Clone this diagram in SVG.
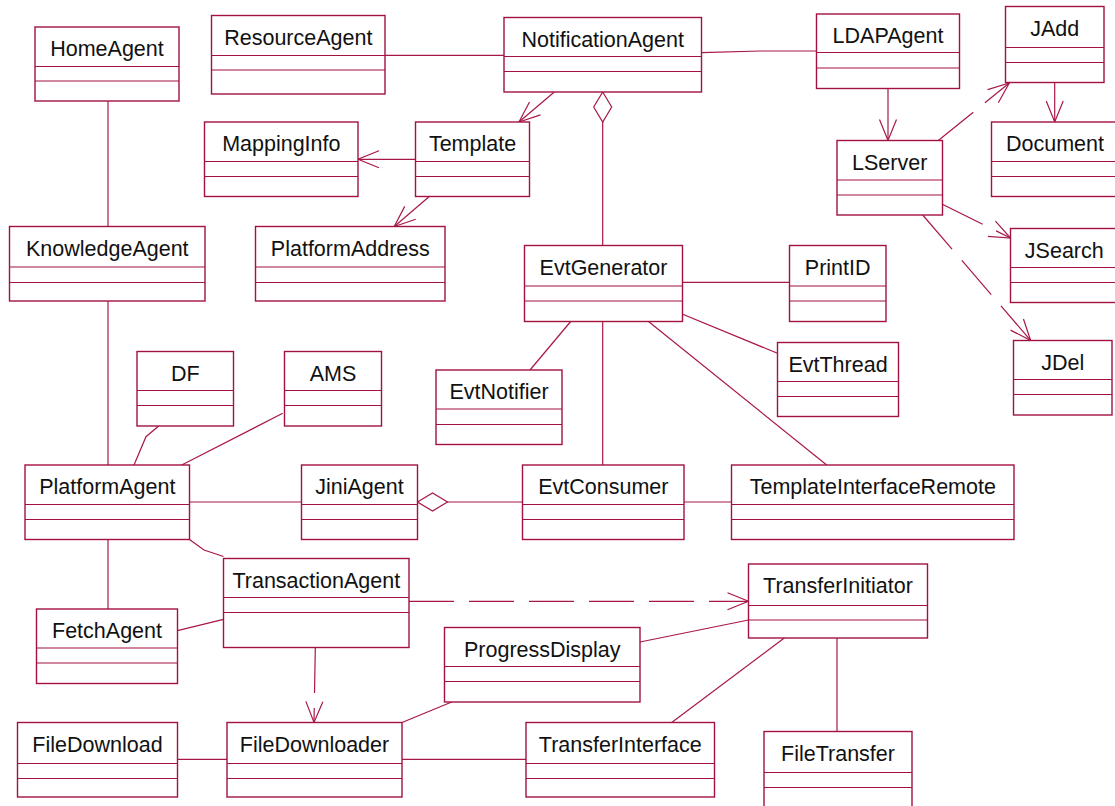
<svg xmlns="http://www.w3.org/2000/svg" width="1115" height="806" viewBox="0 0 1115 806">
  <style>
    .cls rect { fill: #ffffff; stroke: #a3123f; stroke-width: 1.4; }
    .cls line { stroke: #a3123f; stroke-width: 1.2; }
    .cls text { font-family: "Liberation Sans", Arial, sans-serif; font-size: 21.5px; text-anchor: middle; fill: #111111; }
    #connectors path { fill: none; stroke: #a8174a; stroke-width: 1.2; }
    #connectors .dash { stroke-dasharray: 45 15; }
    #connectors .nav { marker-end: url(#open); }
    #connectors .agg { marker-start: url(#diamond); }
  </style>
  <defs>
    <marker id="open" markerUnits="userSpaceOnUse" viewBox="-23 -11 25 22" markerWidth="25" markerHeight="22" refX="0" refY="0" orient="auto">
      <path d="M-21,-8.5 L0,0 L-21,8.5" fill="none" stroke="#a8174a" stroke-width="1.2"/>
    </marker>
    <marker id="diamond" markerUnits="userSpaceOnUse" viewBox="-1 -11 33 22" markerWidth="33" markerHeight="22" refX="0" refY="0" orient="auto">
      <path d="M0,0 L15,-9 L30,0 L15,9 Z" fill="#ffffff" stroke="#a8174a" stroke-width="1.2"/>
    </marker>
  </defs>
  <rect width="1115" height="806" fill="#ffffff"/>

  <!-- associations, navigations, dependencies and aggregations -->
  <g id="connectors">
    <path d="M108,101 L108,226.5"/>
    <path d="M108,301 L108,465"/>
    <path d="M385,55.3 L504,55.3"/>
    <path d="M701.5,52.7 L760,51 L816.5,51"/>
    <path class="nav" d="M554.3,92 L519,122"/>
    <path class="agg" d="M602.7,92 L602.7,245.5"/>
    <path class="nav" d="M415.5,159.3 L358,159.3"/>
    <path class="nav" d="M429,196.7 L394.3,226.5"/>
    <path class="nav" d="M888,88.5 L888,140.5"/>
    <path class="nav dash" d="M938.3,140.5 L1009.3,83"/>
    <path class="nav" d="M1054.7,82.5 L1054.7,122"/>
    <path class="nav dash" d="M942.3,204.3 L1010.5,238"/>
    <path class="nav dash" d="M922.7,215 L1030.7,340.5"/>
    <path d="M682.7,282.3 L789.5,282.3"/>
    <path d="M682.7,314.3 L777.5,353.3"/>
    <path d="M570.7,321.5 L530,370"/>
    <path d="M602.7,321.5 L602.7,465"/>
    <path d="M648.5,321.5 L826.7,465"/>
    <path d="M158.7,426 L146,436.7 L134,465"/>
    <path d="M282.7,413.3 L181.7,465"/>
    <path d="M189.5,502 L301.5,502"/>
    <path class="agg" d="M417.5,502 L522.5,502"/>
    <path d="M684,502 L731.5,502"/>
    <path d="M189.5,539.5 L204,550 L223.5,556.5"/>
    <path d="M108,539.5 L108,609"/>
    <path d="M177.5,630.7 L223.5,619.3"/>
    <path class="nav dash" d="M315.3,648 L314,722.5"/>
    <path class="nav dash" d="M409,601.3 L748.5,601.3"/>
    <path d="M177.5,759.3 L227,759.3"/>
    <path d="M402,722.5 L451.7,702"/>
    <path d="M402,759.3 L526,759.3"/>
    <path d="M640,642 L748.5,620"/>
    <path d="M784.3,638 L671.7,722.5"/>
    <path d="M837,638 L837,731.5"/>
  </g>

  <!-- classes: name, attribute and operation compartments -->
  <g id="HomeAgent" class="cls">
    <rect x="35" y="27" width="144" height="74"/>
    <line x1="35" y1="66.5" x2="179" y2="66.5"/><line x1="35" y1="81" x2="179" y2="81"/>
    <text x="107" y="56">HomeAgent</text>
  </g>
  <g id="ResourceAgent" class="cls">
    <rect x="211.5" y="15.5" width="173.5" height="78.5"/>
    <line x1="211.5" y1="55.5" x2="385" y2="55.5"/><line x1="211.5" y1="70" x2="385" y2="70"/>
    <text x="298.3" y="45">ResourceAgent</text>
  </g>
  <g id="NotificationAgent" class="cls">
    <rect x="504" y="17.5" width="197.5" height="74.5"/>
    <line x1="504" y1="56.5" x2="701.5" y2="56.5"/><line x1="504" y1="71.5" x2="701.5" y2="71.5"/>
    <text x="602.7" y="46.5">NotificationAgent</text>
  </g>
  <g id="LDAPAgent" class="cls">
    <rect x="816.5" y="14" width="143" height="74.5"/>
    <line x1="816.5" y1="52.5" x2="959.5" y2="52.5"/><line x1="816.5" y1="68" x2="959.5" y2="68"/>
    <text x="888" y="43">LDAPAgent</text>
  </g>
  <g id="JAdd" class="cls">
    <rect x="1005.5" y="6.5" width="98.5" height="76"/>
    <line x1="1005.5" y1="47.5" x2="1104" y2="47.5"/><line x1="1005.5" y1="62.5" x2="1104" y2="62.5"/>
    <text x="1054.8" y="35.5">JAdd</text>
  </g>
  <g id="MappingInfo" class="cls">
    <rect x="204.5" y="122" width="153.5" height="74.5"/>
    <line x1="204.5" y1="161.5" x2="358" y2="161.5"/><line x1="204.5" y1="176.5" x2="358" y2="176.5"/>
    <text x="281.3" y="151">MappingInfo</text>
  </g>
  <g id="Template" class="cls">
    <rect x="415.5" y="122" width="114" height="74.5"/>
    <line x1="415.5" y1="161.5" x2="529.5" y2="161.5"/><line x1="415.5" y1="176.5" x2="529.5" y2="176.5"/>
    <text x="472.5" y="151">Template</text>
  </g>
  <g id="Document" class="cls">
    <rect x="991.5" y="122" width="130" height="74.5"/>
    <line x1="991.5" y1="161.5" x2="1121.5" y2="161.5"/><line x1="991.5" y1="176.5" x2="1121.5" y2="176.5"/>
    <text x="1055" y="151">Document</text>
  </g>
  <g id="LServer" class="cls">
    <rect x="837" y="140.5" width="105.5" height="74.5"/>
    <line x1="837" y1="180" x2="942.5" y2="180"/><line x1="837" y1="195" x2="942.5" y2="195"/>
    <text x="889.7" y="169.5">LServer</text>
  </g>
  <g id="KnowledgeAgent" class="cls">
    <rect x="9.5" y="226.5" width="195.5" height="74.5"/>
    <line x1="9.5" y1="267" x2="205" y2="267"/><line x1="9.5" y1="282.5" x2="205" y2="282.5"/>
    <text x="107.3" y="255.5">KnowledgeAgent</text>
  </g>
  <g id="PlatformAddress" class="cls">
    <rect x="255.5" y="226.5" width="189.5" height="74.5"/>
    <line x1="255.5" y1="267" x2="445" y2="267"/><line x1="255.5" y1="282.5" x2="445" y2="282.5"/>
    <text x="350.3" y="255.5">PlatformAddress</text>
  </g>
  <g id="EvtGenerator" class="cls">
    <rect x="524.5" y="245.5" width="158" height="76"/>
    <line x1="524.5" y1="286" x2="682.5" y2="286"/><line x1="524.5" y1="301" x2="682.5" y2="301"/>
    <text x="603.5" y="274.5">EvtGenerator</text>
  </g>
  <g id="PrintID" class="cls">
    <rect x="789.5" y="245.5" width="96.5" height="76"/>
    <line x1="789.5" y1="286" x2="886" y2="286"/><line x1="789.5" y1="301" x2="886" y2="301"/>
    <text x="837.7" y="274.5">PrintID</text>
  </g>
  <g id="JSearch" class="cls">
    <rect x="1010.5" y="228.5" width="110" height="74"/>
    <line x1="1010.5" y1="267.5" x2="1120.5" y2="267.5"/><line x1="1010.5" y1="282.5" x2="1120.5" y2="282.5"/>
    <text x="1064.3" y="257.5">JSearch</text>
  </g>
  <g id="DF" class="cls">
    <rect x="137" y="351.5" width="96.5" height="74.5"/>
    <line x1="137" y1="390.5" x2="233.5" y2="390.5"/><line x1="137" y1="405.5" x2="233.5" y2="405.5"/>
    <text x="185.3" y="380.5">DF</text>
  </g>
  <g id="AMS" class="cls">
    <rect x="284.5" y="351.5" width="97" height="74.5"/>
    <line x1="284.5" y1="390.5" x2="381.5" y2="390.5"/><line x1="284.5" y1="405.5" x2="381.5" y2="405.5"/>
    <text x="333" y="380.5">AMS</text>
  </g>
  <g id="EvtNotifier" class="cls">
    <rect x="436" y="370" width="126" height="74.5"/>
    <line x1="436" y1="409" x2="562" y2="409"/><line x1="436" y1="424.5" x2="562" y2="424.5"/>
    <text x="499" y="399">EvtNotifier</text>
  </g>
  <g id="EvtThread" class="cls">
    <rect x="777.5" y="342.5" width="121" height="74"/>
    <line x1="777.5" y1="381.5" x2="898.5" y2="381.5"/><line x1="777.5" y1="396.5" x2="898.5" y2="396.5"/>
    <text x="838" y="371.5">EvtThread</text>
  </g>
  <g id="JDel" class="cls">
    <rect x="1013.5" y="340.5" width="98.5" height="74.5"/>
    <line x1="1013.5" y1="379.5" x2="1112" y2="379.5"/><line x1="1013.5" y1="394.5" x2="1112" y2="394.5"/>
    <text x="1062.8" y="369.5">JDel</text>
  </g>
  <g id="PlatformAgent" class="cls">
    <rect x="25" y="465" width="164.5" height="74.5"/>
    <line x1="25" y1="504.5" x2="189.5" y2="504.5"/><line x1="25" y1="519.5" x2="189.5" y2="519.5"/>
    <text x="107.3" y="494">PlatformAgent</text>
  </g>
  <g id="JiniAgent" class="cls">
    <rect x="301.5" y="465" width="116" height="74.5"/>
    <line x1="301.5" y1="504.5" x2="417.5" y2="504.5"/><line x1="301.5" y1="519.5" x2="417.5" y2="519.5"/>
    <text x="359.5" y="494">JiniAgent</text>
  </g>
  <g id="EvtConsumer" class="cls">
    <rect x="522.5" y="465" width="161.5" height="74.5"/>
    <line x1="522.5" y1="504.5" x2="684" y2="504.5"/><line x1="522.5" y1="519.5" x2="684" y2="519.5"/>
    <text x="603.3" y="494">EvtConsumer</text>
  </g>
  <g id="TemplateInterfaceRemote" class="cls">
    <rect x="731.5" y="465" width="282.5" height="74.5"/>
    <line x1="731.5" y1="504.5" x2="1014" y2="504.5"/><line x1="731.5" y1="519.5" x2="1014" y2="519.5"/>
    <text x="872.8" y="494">TemplateInterfaceRemote</text>
  </g>
  <g id="TransactionAgent" class="cls">
    <rect x="223.5" y="558.5" width="185.5" height="89"/>
    <line x1="223.5" y1="597.5" x2="409" y2="597.5"/><line x1="223.5" y1="612.5" x2="409" y2="612.5"/>
    <text x="316.3" y="587.5">TransactionAgent</text>
  </g>
  <g id="TransferInitiator" class="cls">
    <rect x="748.5" y="564" width="179" height="74"/>
    <line x1="748.5" y1="605.5" x2="927.5" y2="605.5"/><line x1="748.5" y1="620" x2="927.5" y2="620"/>
    <text x="838" y="593">TransferInitiator</text>
  </g>
  <g id="FetchAgent" class="cls">
    <rect x="36.5" y="609" width="141" height="74.5"/>
    <line x1="36.5" y1="648" x2="177.5" y2="648"/><line x1="36.5" y1="663" x2="177.5" y2="663"/>
    <text x="107" y="638">FetchAgent</text>
  </g>
  <g id="ProgressDisplay" class="cls">
    <rect x="444.5" y="627.5" width="195.5" height="74.5"/>
    <line x1="444.5" y1="666.5" x2="640" y2="666.5"/><line x1="444.5" y1="681.5" x2="640" y2="681.5"/>
    <text x="542.3" y="656.5">ProgressDisplay</text>
  </g>
  <g id="FileDownload" class="cls">
    <rect x="17.5" y="722.5" width="160" height="74.5"/>
    <line x1="17.5" y1="763.5" x2="177.5" y2="763.5"/><line x1="17.5" y1="778.5" x2="177.5" y2="778.5"/>
    <text x="97.5" y="751.5">FileDownload</text>
  </g>
  <g id="FileDownloader" class="cls">
    <rect x="227" y="722.5" width="175" height="74.5"/>
    <line x1="227" y1="763.5" x2="402" y2="763.5"/><line x1="227" y1="778.5" x2="402" y2="778.5"/>
    <text x="314.5" y="751.5">FileDownloader</text>
  </g>
  <g id="TransferInterface" class="cls">
    <rect x="526" y="722.5" width="188.5" height="74.5"/>
    <line x1="526" y1="763.5" x2="714.5" y2="763.5"/><line x1="526" y1="778.5" x2="714.5" y2="778.5"/>
    <text x="620.3" y="751.5">TransferInterface</text>
  </g>
  <g id="FileTransfer" class="cls">
    <rect x="764" y="731.5" width="148" height="80"/>
    <line x1="764" y1="772.5" x2="912" y2="772.5"/><line x1="764" y1="787.5" x2="912" y2="787.5"/>
    <text x="838" y="760.5">FileTransfer</text>
  </g>
</svg>
